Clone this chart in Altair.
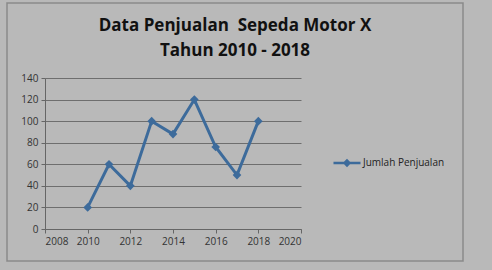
import altair as alt
import pandas as pd

years = [2010, 2011, 2012, 2013, 2014, 2015, 2016, 2017, 2018]
sales = [20, 60, 40, 100, 88, 120, 76, 50, 100]
series = ["Jumlah Penjualan"] * len(years)
x_ticks = [2008, 2010, 2012, 2014, 2016, 2018, 2020]
y_ticks = [0, 20, 40, 60, 80, 100, 120, 140]
title_lines = ["Data Penjualan \u00a0Sepeda Motor X", "Tahun 2010 - 2018"]

df = pd.DataFrame({"Tahun": years, "Penjualan": sales, "Seri": series})

BLUE = "#3d6b9b"
FONT = "Open Sans"

color = alt.Color(
    "Seri:N",
    scale=alt.Scale(range=[BLUE]),
    legend=alt.Legend(
        title=None,
        orient="none",
        legendX=287,
        legendY=70,
        symbolType="M-1,0H1M-0.18,0L0,-0.18L0.18,0L0,0.18Z",
        symbolSize=730,
        symbolStrokeWidth=2.5,
        symbolFillColor=BLUE,
        symbolStrokeColor=BLUE,
        labelFont=FONT,
        labelFontSize=10,
        labelColor="#222222",
        labelOffset=1,
    ),
)

x = alt.X(
    "Tahun:Q",
    scale=alt.Scale(domain=[2008, 2020], nice=False, zero=False),
    axis=alt.Axis(values=x_ticks, format="d", title=None, grid=False, labelOverlap=False),
)
y = alt.Y(
    "Penjualan:Q",
    scale=alt.Scale(domain=[0, 140], nice=False),
    axis=alt.Axis(values=y_ticks, title=None, grid=True, labelOverlap=False),
)

frame = alt.Chart(pd.DataFrame({"k": [0]})).mark_rect(
    fill=None, stroke="#8a8a8a", strokeWidth=1.5
).encode(
    x=alt.value(-38), x2=alt.value(418), y=alt.value(-75), y2=alt.value(183)
)

title1 = alt.Chart(pd.DataFrame({"t": [title_lines[0]]})).mark_text(
    font=FONT, fontSize=17, fontWeight="bold", color="#111111", align="center", baseline="middle"
).encode(text="t:N", x=alt.value(190), y=alt.value(-52))
title2 = alt.Chart(pd.DataFrame({"t": [title_lines[1]]})).mark_text(
    font=FONT, fontSize=17, fontWeight="bold", color="#111111", align="center", baseline="middle"
).encode(text="t:N", x=alt.value(190), y=alt.value(-27))

line = alt.Chart(df).mark_line(strokeWidth=3).encode(x=x, y=y, color=color)
pts = alt.Chart(df).mark_point(
    shape="diamond", filled=True, size=75, opacity=1
).encode(x=x, y=y, color=alt.Color("Seri:N", legend=None))

chart = (
    alt.layer(frame, title1, title2, line, pts)
    .properties(
        width=256,
        height=151,
        background="#b9b9b9",
        autosize=alt.AutoSizeParams(type="none"),
        padding={"left": 45, "top": 78, "right": 191, "bottom": 41},
    )
    .configure_view(stroke=None, fill=None)
    .configure_axis(
        labelFont=FONT,
        labelFontSize=10,
        labelColor="#333333",
        domainColor="#666666",
        tickColor="#666666",
        gridColor="#6e6e6e",
        gridWidth=1,
        tickSize=4,
        labelPadding=3,
    )
)

chart.save("out.html", embed_options={"renderer": "svg", "actions": False})
